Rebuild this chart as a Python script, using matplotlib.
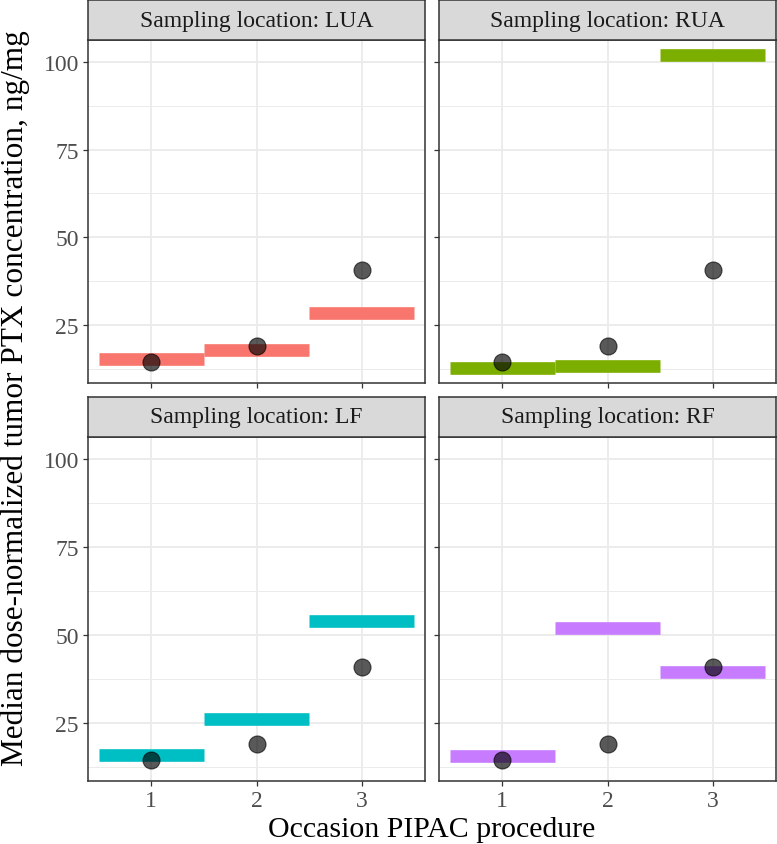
import matplotlib
matplotlib.use("Agg")
import matplotlib.pyplot as plt

plt.rcParams['font.family'] = ['Liberation Serif', 'DejaVu Serif']

# data
locations = ["LUA", "RUA", "LF", "RF"]
colors = ["#F8766D", "#7CAE00", "#00BFC4", "#C77CFF"]
occasions = [1, 2, 3]
observed = [14.5, 19.1, 40.8]          # same dots in every panel
medians = {
    "LUA": [15.2, 17.9, 28.5],
    "RUA": [12.7, 13.3, 102.1],
    "LF": [15.9, 26.2, 54.0],
    "RF": [15.6, 52.0, 39.5],
}
yticks = [25, 50, 75, 100]
yminor = [12.5, 37.5, 62.5, 87.5]

W, H = 777, 845
fig = plt.figure(figsize=(W / 100, H / 100), dpi=100)

cols = [(88, 425), (439, 776)]
rows = [(1, 41, 384), (398, 438, 782)]   # strip top, panel top, panel bottom

def fbox(x0, x1, y0, y1):
    return [x0 / W, 1 - y1 / H, (x1 - x0) / W, (y1 - y0) / H]

for i, loc in enumerate(locations):
    r, c = divmod(i, 2)
    x0, x1 = cols[c]
    st, pt, pb = rows[r]

    ax = fig.add_axes(fbox(x0, x1, pt, pb))
    ax.set_xlim(0.4, 3.6)
    ax.set_ylim(8.46, 106.27)
    ax.set_xticks(occasions)
    ax.set_yticks(yticks)
    ax.set_yticks(yminor, minor=True)
    ax.grid(True, which="major", color="#EBEBEB", lw=1.3)
    ax.grid(True, which="minor", axis="y", color="#EBEBEB", lw=0.7)
    ax.set_axisbelow(True)
    for s in ax.spines.values():
        s.set_color("#333333")
        s.set_linewidth(1.1)
    ax.tick_params(which="major", length=3.5, color="#333333", width=0.9,
                   labelsize=17, labelcolor="#4D4D4D", pad=3)
    ax.tick_params(which="minor", length=0)
    if c == 1:
        ax.tick_params(labelleft=False)
    if r == 0:
        ax.tick_params(labelbottom=False)

    ax.hlines(medians[loc], [o - 0.5 for o in occasions], [o + 0.5 for o in occasions],
              color=colors[i], lw=9.1, capstyle="butt", zorder=2)
    ax.scatter(occasions, observed, s=150, color="black", alpha=0.65,
               edgecolor="black", linewidth=0.8, zorder=3)

    sax = fig.add_axes(fbox(x0, x1, st, pt))
    sax.set_xticks([])
    sax.set_yticks([])
    sax.set_facecolor("#D9D9D9")
    for s in sax.spines.values():
        s.set_color("#333333")
        s.set_linewidth(1.1)
    sax.text(0.5, 0.5, f"Sampling location: {loc}", ha="center", va="center",
             fontsize=17, color="#1A1A1A", transform=sax.transAxes)

fig.text(432 / W, 1 - 830 / H, "Occasion PIPAC procedure", ha="center", va="center",
         fontsize=21.5)
fig.text(15 / W, 1 - 398 / H, "Median dose-normalized tumor PTX concentration, ng/mg",
         ha="center", va="center", rotation=90, fontsize=22.5)

fig.savefig("out.png", dpi=100)
